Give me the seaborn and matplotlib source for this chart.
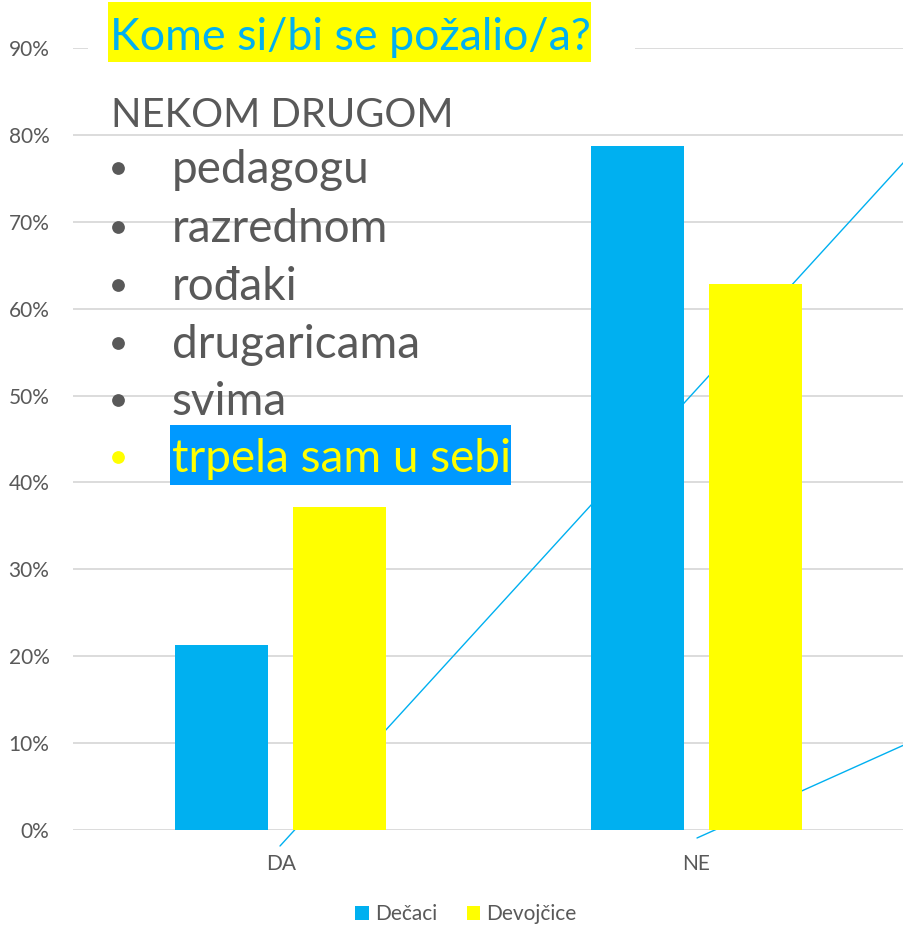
import matplotlib
matplotlib.use("Agg")
import matplotlib.pyplot as plt
from matplotlib.lines import Line2D
from matplotlib.patches import Rectangle
from matplotlib.ticker import PercentFormatter
import pandas as pd
import seaborn as sns

# Survey answers
categories = ["DA", "NE"]
groups = ["Dečaci", "Devojčice"]
decaci = [0.213, 0.787]
devojcice = [0.372, 0.628]

title = "Kome si/bi se požalio/a?"
subtitle = "NEKOM DRUGOM"
items = ["pedagogu", "razrednom", "rođaki", "drugaricama", "svima", "trpela sam u sebi"]

BLUE = "#00B0F0"
YELLOW = "#FFFF00"
BOX_BLUE = "#0099FF"
GRAY = "#595959"
GRID = "#D9D9D9"

df = pd.DataFrame({
    "odgovor": categories * 2,
    "pol": [groups[0]] * len(categories) + [groups[1]] * len(categories),
    "udeo": decaci + devojcice,
})

sns.set_theme(style="white")
plt.rcParams["font.family"] = ["Lato", "DejaVu Sans"]

W, H = 904, 926
fig = plt.figure(figsize=(W / 100, H / 100), dpi=100)


def fx(px):
    return px / W


def fy(py):
    return 1 - py / H


ax = fig.add_axes([fx(73), fy(830), fx(904) - fx(73), fy(48) - fy(830)])

sns.barplot(data=df, x="odgovor", y="udeo", hue="pol", hue_order=groups,
            palette=[BLUE, YELLOW], saturation=1, errorbar=None,
            width=0.568, gap=0.211, linewidth=0, ax=ax)
for p in ax.patches:
    p.set_zorder(2)

ax.set_ylim(0, 0.9)
ax.set_xlim(-0.5, 1.5)
ax.set_yticks([i / 10 for i in range(10)])
ax.yaxis.set_major_formatter(PercentFormatter(1.0, decimals=0))
ax.set_xlabel("")
ax.set_ylabel("")
ax.grid(axis="y", color=GRID, linewidth=1.3)
ax.grid(axis="x", visible=False)
ax.set_axisbelow(True)
for s in ax.spines.values():
    s.set_visible(False)
ax.tick_params(axis="y", length=0, pad=17, labelsize=15, labelcolor=GRAY)
ax.tick_params(axis="x", length=0, pad=17, labelsize=15, labelcolor=GRAY)

# Decorative diagonal strokes behind the bars
for (x0, y0), (x1, y1) in [((280, 846), (904, 162)), ((697, 838), (904, 745))]:
    ax.add_line(Line2D([fx(x0), fx(x1)], [fy(y0), fy(y1)], transform=fig.transFigure,
                       color=BLUE, linewidth=1.0, clip_on=False, zorder=1.5))

# Legend under the chart
sns.move_legend(ax, "center", bbox_to_anchor=(fx(466), fy(914)),
                bbox_transform=fig.transFigure, ncol=2, frameon=False, title=None,
                fontsize=15, handlelength=0.65, handleheight=0.65,
                handletextpad=0.3, columnspacing=1.4)
for t in ax.get_legend().get_texts():
    t.set_color(GRAY)

# Title text frame (white) with yellow highlight
fig.patches.append(Rectangle((fx(88), fy(62)), fx(635) - fx(88), fy(2) - fy(62),
                             transform=fig.transFigure, facecolor="white",
                             edgecolor="none", zorder=2.5))
fig.patches.append(Rectangle((fx(108), fy(62)), fx(591) - fx(108), fy(2) - fy(62),
                             transform=fig.transFigure, facecolor=YELLOW,
                             edgecolor="none", zorder=3))
fig.text(fx(110), fy(50), title, color=BLUE, fontsize=32.2, ha="left",
         va="baseline", zorder=4)

fig.text(fx(111), fy(127), subtitle, color=GRAY, fontsize=28.8, ha="left",
         va="baseline", zorder=4)

baselines = [183, 242, 300, 358, 415, 472]
fig.patches.append(Rectangle((fx(170), fy(485)), fx(511) - fx(170), fy(425) - fy(485),
                             transform=fig.transFigure, facecolor=BOX_BLUE,
                             edgecolor="none", zorder=3))
for i, (item, b) in enumerate(zip(items, baselines)):
    color = YELLOW if i == len(items) - 1 else GRAY
    fig.add_artist(Line2D([fx(118)], [fy(b - 15)], transform=fig.transFigure,
                          marker="o", markersize=9.2, markeredgewidth=0,
                          markerfacecolor=color, linestyle="none", zorder=4))
    fig.text(fx(172), fy(b), item, color=color, fontsize=33,
             ha="left", va="baseline", zorder=4)

fig.savefig("out.png", dpi=100)
